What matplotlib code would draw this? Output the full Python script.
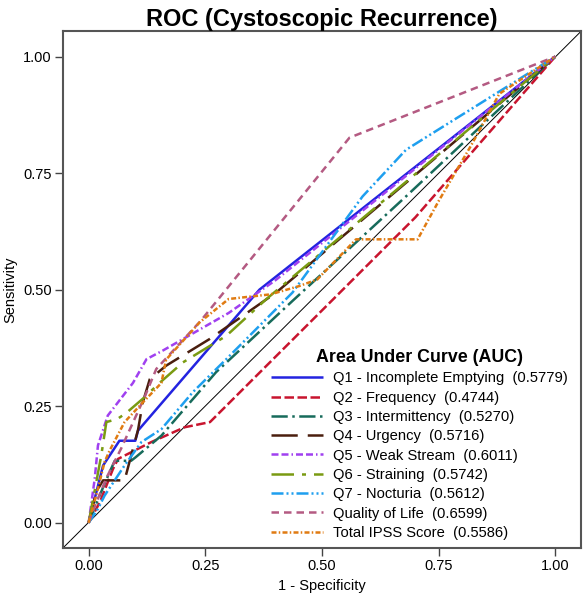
import matplotlib
matplotlib.use("Agg")
import matplotlib.pyplot as plt

plt.rcParams['font.family'] = ['Liberation Sans', 'DejaVu Sans']

# ---- data ----
q1_x = [0, 0.031, 0.066, 0.10, 0.106, 0.366, 1.0]
q1_y = [0, 0.123, 0.176, 0.176, 0.198, 0.500, 1.0]

q2_x = [0, 0.024, 0.052, 0.063, 0.134, 0.206, 0.26, 0.70, 1.0]
q2_y = [0, 0.044, 0.115, 0.137, 0.173, 0.205, 0.216, 0.655, 1.0]

q3_x = [0, 0.02, 0.045, 0.056, 0.091, 0.10, 0.156, 0.273, 0.437, 0.68, 1.0]
q3_y = [0, 0.05, 0.109, 0.133, 0.133, 0.14, 0.187, 0.323, 0.476, 0.70, 1.0]

q4_x = [0, 0.016, 0.031, 0.077, 0.106, 0.116, 0.131, 0.166, 0.259, 0.402, 1.0]
q4_y = [0, 0.066, 0.091, 0.091, 0.200, 0.258, 0.308, 0.337, 0.394, 0.494, 1.0]

q5_x = [0, 0.013, 0.02, 0.041, 0.095, 0.124, 0.16, 0.30, 0.40, 1.0]
q5_y = [0, 0.094, 0.166, 0.23, 0.30, 0.351, 0.37, 0.45, 0.52, 1.0]

q6_x = [0, 0.027, 0.038, 0.062, 0.08, 0.116, 0.152, 0.202, 0.295, 0.381, 1.0]
q6_y = [0, 0.144, 0.216, 0.223, 0.235, 0.266, 0.30, 0.344, 0.401, 0.48, 1.0]

q7_x = [0, 0.02, 0.034, 0.077, 0.113, 0.156, 0.223, 0.295, 0.437, 0.587, 0.68, 1.0]
q7_y = [0, 0.03, 0.058, 0.123, 0.173, 0.201, 0.28, 0.351, 0.494, 0.70, 0.80, 1.0]

qol_x = [0, 0.015, 0.04, 0.07, 0.12, 0.145, 0.24, 0.559, 1.0]
qol_y = [0, 0.04, 0.10, 0.16, 0.27, 0.33, 0.433, 0.826, 1.0]

tot_x = [0, 0.02, 0.034, 0.045, 0.077, 0.116, 0.156, 0.166, 0.238, 0.30, 0.39,
         0.452, 0.49, 0.573, 0.705, 0.75, 0.82, 0.88, 1.0]
tot_y = [0, 0.073, 0.13, 0.155, 0.216, 0.258, 0.30, 0.35, 0.43, 0.48, 0.49,
         0.508, 0.522, 0.608, 0.608, 0.69, 0.81, 0.92, 1.0]

labels = ["Q1 - Incomplete Emptying  (0.5779)",
          "Q2 - Frequency  (0.4744)",
          "Q3 - Intermittency  (0.5270)",
          "Q4 - Urgency  (0.5716)",
          "Q5 - Weak Stream  (0.6011)",
          "Q6 - Straining  (0.5742)",
          "Q7 - Nocturia  (0.5612)",
          "Quality of Life  (0.6599)",
          "Total IPSS Score  (0.5586)"]

xticks = [0.00, 0.25, 0.50, 0.75, 1.00]
yticks = [0.00, 0.25, 0.50, 0.75, 1.00]

series = [(q1_x, q1_y), (q2_x, q2_y), (q3_x, q3_y), (q4_x, q4_y), (q5_x, q5_y),
          (q6_x, q6_y), (q7_x, q7_y), (qol_x, qol_y), (tot_x, tot_y)]

colors = ['#2323E0', '#C8142E', '#176B5B', '#4A1E0E', '#A040F0',
          '#7A9B12', '#1E9FEF', '#B45A82', '#E07B12']
dashes = [None,
          (3.8, 1.4),
          (6.5, 1.8, 1.0, 1.8),
          (10.5, 4.0),
          (2.8, 1.2, 2.8, 1.2, 0.6, 1.2),
          (9.0, 3.2, 1.6, 3.2),
          (4.8, 1.2, 0.8, 1.2, 0.8, 1.2),
          (3.0, 2.0),
          (2.0, 0.9, 0.6, 0.9)]

fig = plt.figure(figsize=(5.83, 6.0), dpi=100)
ax = fig.add_axes([0.108, 0.0867, 0.8885, 0.861])

xlo, xhi = -0.055, 1.055
ylo, yhi = -0.054, 1.054
ax.plot([xlo, xhi], [ylo, yhi], color='black', lw=0.7, zorder=1)

handles = []
for (x, y), c, d, lab in zip(series, colors, dashes, labels):
    ln, = ax.plot(x, y, color=c, lw=1.8, label=lab, solid_capstyle='butt',
                  dash_capstyle='butt', zorder=2)
    if d is not None:
        ln.set_dashes(d)
    handles.append(ln)

ax.set_xlim(xlo, xhi)
ax.set_ylim(ylo, yhi)
ax.set_xticks(xticks)
ax.set_yticks(yticks)
ax.set_xticklabels([f"{t:.2f}" for t in xticks])
ax.set_yticklabels([f"{t:.2f}" for t in yticks])
ax.tick_params(axis='both', direction='out', length=6, width=1.0,
               color='#444444', labelsize=10.5, pad=2)
for s in ax.spines.values():
    s.set_color('#555555')
    s.set_linewidth(1.5)

ax.set_xlabel("1 - Specificity", fontsize=10.5, labelpad=4)
ax.set_ylabel("Sensitivity", fontsize=10.5, labelpad=4)
ax.set_title("ROC (Cystoscopic Recurrence)", fontsize=17, fontweight='bold', pad=4)

leg = ax.legend(handles=handles, loc='lower right', bbox_to_anchor=(0.997, -0.007),
                frameon=False, fontsize=10.6, handlelength=3.5,
                handletextpad=0.7, labelspacing=0.36, borderpad=0.3,
                title="Area Under Curve (AUC)",
                title_fontproperties={'weight': 'bold', 'size': 12.8})

fig.savefig("out.png", dpi=100)
